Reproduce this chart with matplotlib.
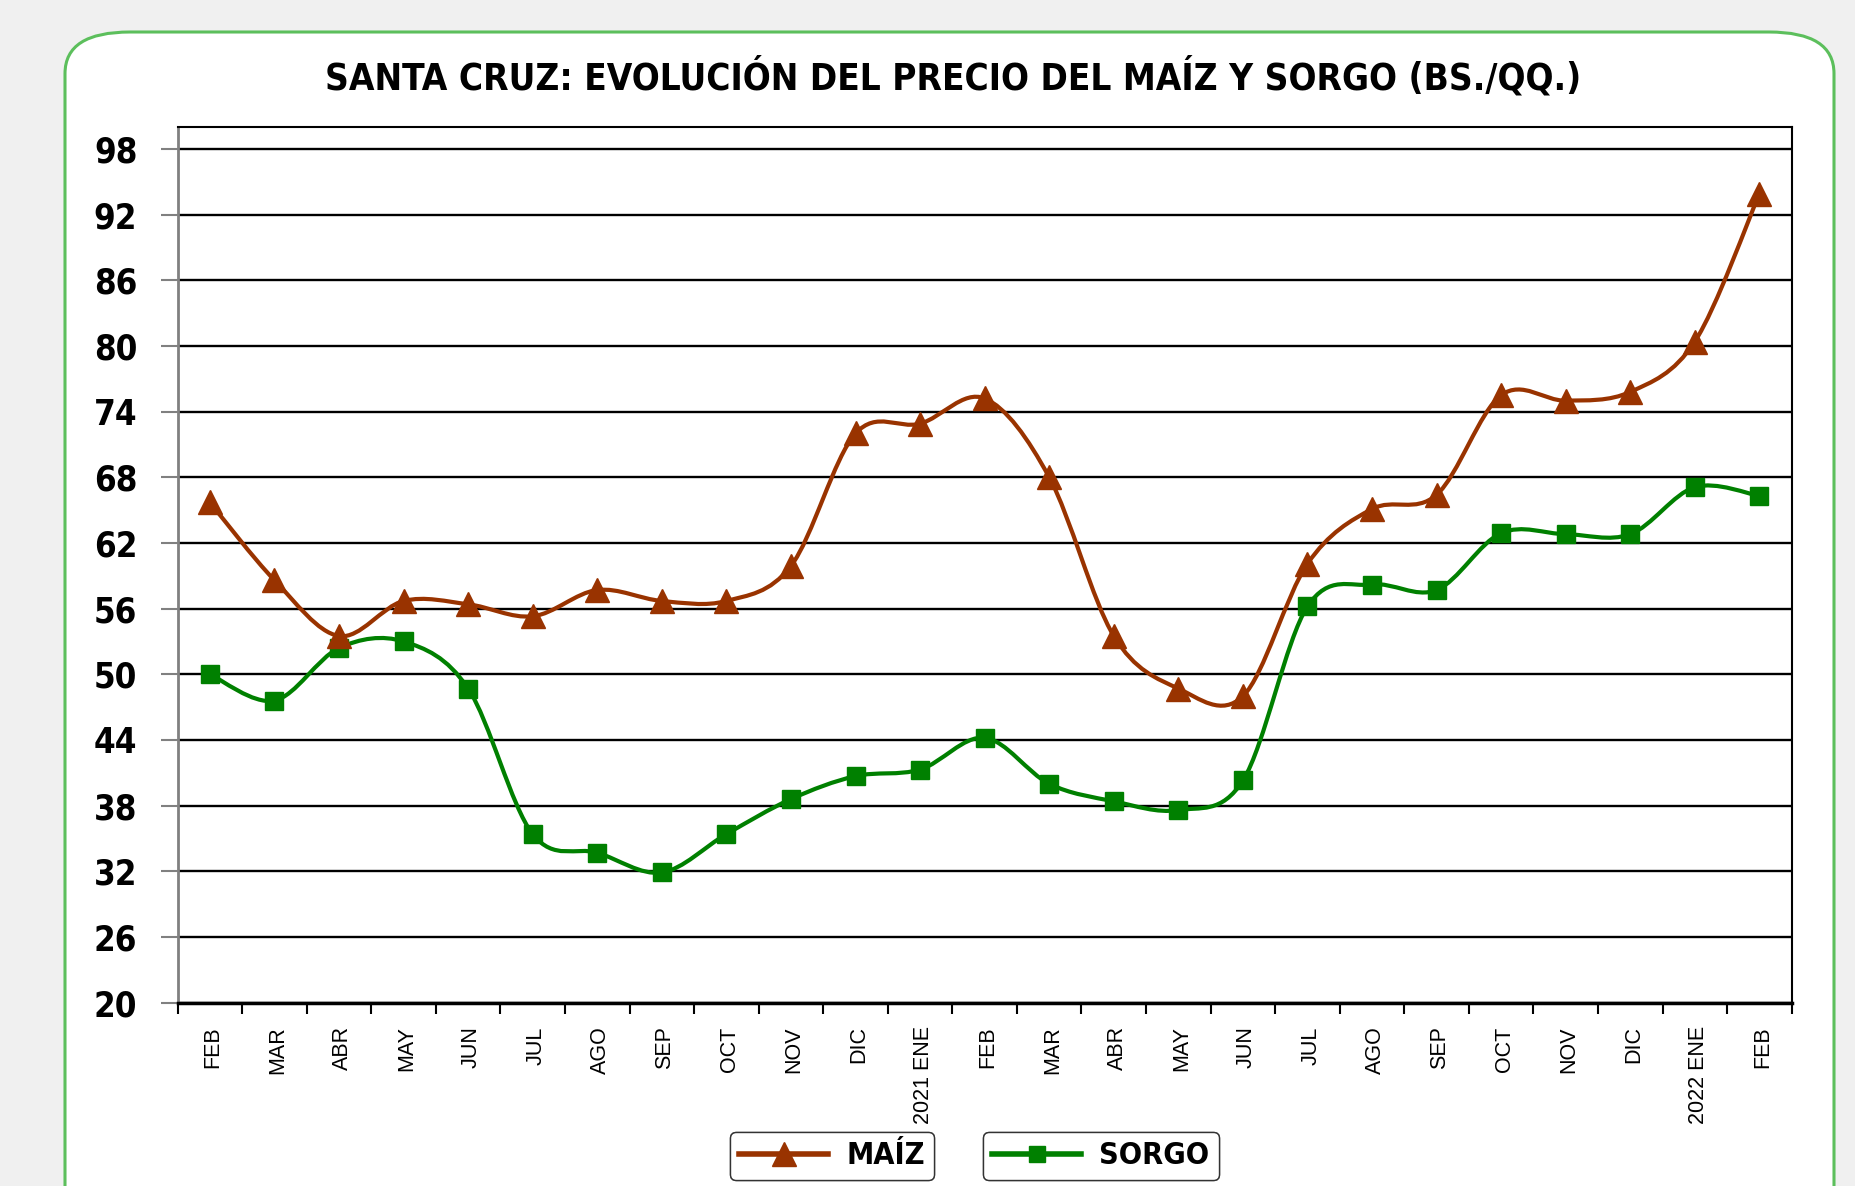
import numpy as np
import matplotlib
matplotlib.use("Agg")
import matplotlib.pyplot as plt
from matplotlib.path import Path
from matplotlib.patches import PathPatch, FancyBboxPatch
from matplotlib.lines import Line2D

# datos
meses = ["FEB", "MAR", "ABR", "MAY", "JUN", "JUL", "AGO", "SEP", "OCT", "NOV", "DIC",
         "2021 ENE", "FEB", "MAR", "ABR", "MAY", "JUN", "JUL", "AGO", "SEP", "OCT",
         "NOV", "DIC", "2022 ENE", "FEB"]
maiz = [65.7, 58.6, 53.5, 56.7, 56.4, 55.3, 57.7, 56.7, 56.7, 59.9, 72.0,
        72.9, 75.2, 68.0, 53.5, 48.7, 48.0, 60.1, 65.1, 66.4, 75.5,
        75.0, 75.8, 80.4, 93.9]
sorgo = [50.0, 47.6, 52.4, 53.0, 48.7, 35.4, 33.7, 31.9, 35.4, 38.6, 40.7,
         41.3, 44.2, 40.0, 38.4, 37.6, 40.3, 56.2, 58.2, 57.7, 62.9,
         62.8, 62.8, 67.1, 66.3]
yticks = [20, 26, 32, 38, 44, 50, 56, 62, 68, 74, 80, 86, 92, 98]

normal = ["Liberation Sans", "DejaVu Sans"]
narrow = {"family": "DejaVu Sans", "stretch": "condensed", "weight": "bold"}

fig = plt.figure(figsize=(18.55, 11.86), dpi=100, facecolor="#f0f0f0")

# marco verde redondeado
marco = FancyBboxPatch((65 / 1855, -0.05), (1834 - 65) / 1855, 1.05 - 32 / 1186,
                       boxstyle="round,pad=0,rounding_size=0.035",
                       transform=fig.transFigure, facecolor="white",
                       edgecolor="#5cbf5c", linewidth=2.2, zorder=0)
fig.patches.append(marco)

ax = fig.add_axes([177.6 / 1855, 1 - 1002.7 / 1186, (1791.7 - 177.6) / 1855, (1002.7 - 127) / 1186])
ax.set_zorder(2)
ax.set_facecolor("white")


def suave(xs, ys):
    # curva tipo excel (bezier con tangentes catmull-rom)
    pts = list(zip(xs, ys))
    verts = [pts[0]]
    codes = [Path.MOVETO]
    n = len(pts)
    for i in range(n - 1):
        p0 = pts[i - 1] if i > 0 else pts[i]
        p1 = pts[i]
        p2 = pts[i + 1]
        p3 = pts[i + 2] if i + 2 < n else pts[i + 1]
        c1 = (p1[0] + (p2[0] - p0[0]) / 6, p1[1] + (p2[1] - p0[1]) / 6)
        c2 = (p2[0] - (p3[0] - p1[0]) / 6, p2[1] - (p3[1] - p1[1]) / 6)
        verts += [c1, c2, p2]
        codes += [Path.CURVE4] * 3
    return Path(verts, codes)


x = np.arange(len(meses))
col_m = "#993300"
col_s = "#008000"

ax.add_patch(PathPatch(suave(x, sorgo), fill=False, edgecolor=col_s, lw=3, zorder=3))
ax.add_patch(PathPatch(suave(x, maiz), fill=False, edgecolor=col_m, lw=3, zorder=3))
ax.plot(x, sorgo, ls="none", marker="s", ms=13, color=col_s, zorder=4)
ax.plot(x, maiz, ls="none", marker="^", ms=17, color=col_m, zorder=4)

ax.set_xlim(-0.5, len(meses) - 0.5)
ax.set_ylim(20, 100)

ax.set_yticks(yticks)
ax.set_yticklabels([str(v) for v in yticks], fontsize=25, **narrow)
ax.yaxis.grid(True, color="black", lw=1.7)
ax.set_axisbelow(True)
ax.tick_params(axis="y", length=12, width=1.5, color="#808080", pad=17)

ax.set_xticks(np.arange(len(meses) + 1) - 0.5)
ax.set_xticklabels([])
ax.set_xticks(x + 0.05, minor=True)
ax.set_xticklabels(meses, minor=True, rotation=90, family=normal, fontsize=15.5, va="top")
ax.tick_params(axis="x", which="major", length=8, width=1.5, color="black")
ax.tick_params(axis="x", which="minor", length=0, pad=17)

for s in ["top", "right", "bottom"]:
    ax.spines[s].set_color("black")
    ax.spines[s].set_linewidth(1.5)
ax.spines["bottom"].set_linewidth(2.5)
ax.spines["left"].set_color("#808080")
ax.spines["left"].set_linewidth(2)

fig.text(953 / 1855, 1 - 77 / 1186, "SANTA CRUZ: EVOLUCIÓN DEL PRECIO DEL MAÍZ Y SORGO (BS./QQ.)",
         ha="center", va="center", fontsize=26.5, **narrow)

# leyendas separadas
h_m = Line2D([], [], color=col_m, lw=4, marker="^", ms=17)
h_s = Line2D([], [], color=col_s, lw=4, marker="s", ms=12)
for h, lab, cx in [(h_m, "MAÍZ", 832), (h_s, "SORGO", 1101)]:
    leg = fig.legend([h], [lab], loc="center", bbox_to_anchor=(cx / 1855, 1 - 1156 / 1186),
                     prop={"family": "DejaVu Sans", "stretch": "condensed", "weight": "bold", "size": 22},
                     frameon=True, fancybox=True, edgecolor="#333333", framealpha=1,
                     handlelength=2.9, borderpad=0.3, handletextpad=0.6)
    leg.get_frame().set_linewidth(1)
    leg.set_zorder(5)
    fig.add_artist(leg)

fig.savefig("out.png", dpi=100, facecolor=fig.get_facecolor())
